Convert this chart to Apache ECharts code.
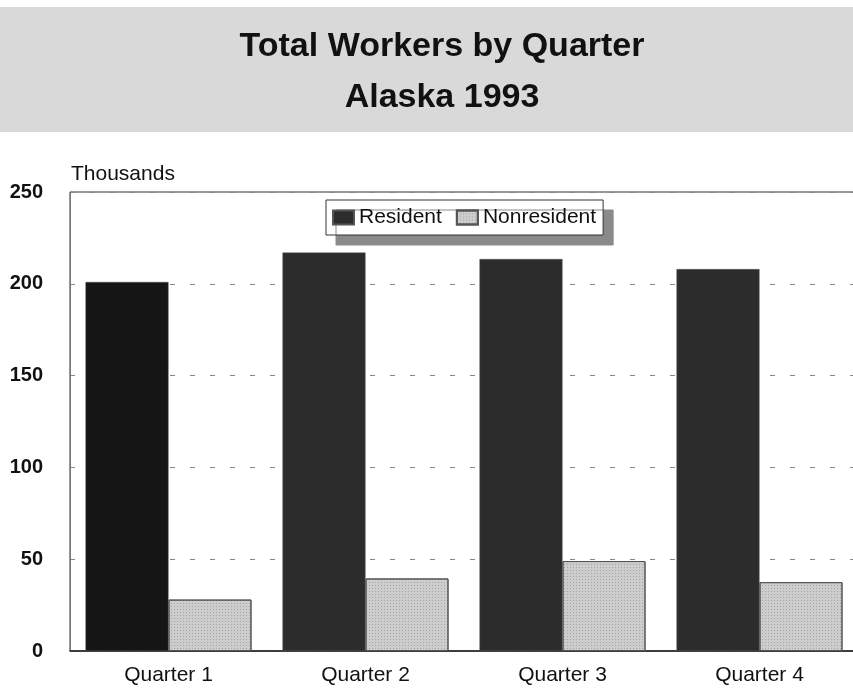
<!DOCTYPE html>
<html>
<head>
<meta charset="utf-8">
<script src="https://cdn.jsdelivr.net/npm/echarts@6/dist/echarts.min.js"></script>
<style>
  html, body { margin: 0; padding: 0; background: #fff; overflow: hidden; }
  /* plot frame runs slightly past the right edge of the page */
  #chart { width: 858px; height: 689px; }
</style>
</head>
<body>
<div id="chart"></div>
<script>
// Workers in thousands, by quarter
const quarters = ['Quarter 1', 'Quarter 2', 'Quarter 3', 'Quarter 4'];
const resident = [201, 217, 213.5, 208];
const nonresident = [28, 39.5, 49, 37.5];
const yTicks = { min: 0, max: 250, step: 50 };

const FONT = '"Liberation Sans", Arial, Helvetica, sans-serif';

const chart = echarts.init(document.getElementById('chart'), null, { renderer: 'canvas' });

// First quarter's resident bar is printed darker than the rest
const residentData = resident.map((v, i) => ({
  value: v,
  itemStyle: { color: i === 0 ? '#151515' : '#2c2c2c' }
}));

chart.setOption({
  backgroundColor: '#ffffff',
  animation: false,
  graphic: [{
    type: 'rect',
    z: -10,
    shape: { x: 0, y: 7, width: 858, height: 125 },
    style: { fill: '#d9d9d9' }
  }],
  title: {
    text: 'Total Workers by Quarter\nAlaska 1993',
    left: 437,
    textAlign: 'center',
    top: 16,
    textStyle: {
      fontFamily: FONT,
      fontSize: 34,
      fontWeight: 'bold',
      color: '#111',
      lineHeight: 51
    }
  },
  legend: {
    data: ['Resident', 'Nonresident'],
    left: 326,
    top: 200,
    orient: 'horizontal',
    icon: 'rect',
    itemWidth: 21,
    itemHeight: 14,
    itemGap: 14,
    padding: [7, 7, 7, 6],
    backgroundColor: '#ffffff',
    borderColor: '#333',
    borderWidth: 1,
    borderRadius: 0,
    shadowColor: '#8a8a8a',
    shadowBlur: 0,
    shadowOffsetX: 10,
    shadowOffsetY: 10,
    textStyle: { fontFamily: FONT, fontSize: 21, color: '#111' }
  },
  grid: {
    left: 70,
    right: 0,
    top: 192,
    bottom: 38,
    show: true,
    borderColor: '#333',
    borderWidth: 1,
    containLabel: false
  },
  xAxis: {
    type: 'category',
    data: quarters,
    axisTick: { show: false },
    axisLine: { show: true, lineStyle: { color: '#222', width: 1.5 } },
    axisLabel: { fontFamily: FONT, fontSize: 21, color: '#111', margin: 14 },
    splitLine: { show: false }
  },
  yAxis: {
    type: 'value',
    min: yTicks.min,
    max: yTicks.max,
    interval: yTicks.step,
    name: 'Thousands',
    nameLocation: 'end',
    nameGap: 7,
    nameTextStyle: { fontFamily: FONT, fontSize: 21, color: '#111', align: 'left', padding: [0, 0, 0, 1] },
    axisLine: { show: true, lineStyle: { color: '#777', width: 1 } },
    axisTick: { show: false },
    axisLabel: { fontFamily: FONT, fontSize: 20, fontWeight: 'bold', color: '#111', margin: 27 },
    splitLine: { show: true, lineStyle: { color: '#888', type: [5, 15], width: 1 } }
  },
  series: [
    {
      name: 'Resident',
      type: 'bar',
      data: residentData,
      barWidth: 83,
      barGap: '0%',
      itemStyle: { color: '#2c2c2c', borderColor: '#555', borderWidth: 0.5 }
    },
    {
      name: 'Nonresident',
      type: 'bar',
      data: nonresident,
      barWidth: 83,
      barGap: '0%',
      itemStyle: {
        color: '#cdcdcd',
        borderColor: '#555',
        borderWidth: 1,
        decal: {
          symbol: 'rect',
          symbolSize: 1,
          dashArrayX: [1, 2],
          dashArrayY: [1, 2],
          color: 'rgba(90,90,90,0.35)'
        }
      }
    }
  ]
});
</script>
</body>
</html>
